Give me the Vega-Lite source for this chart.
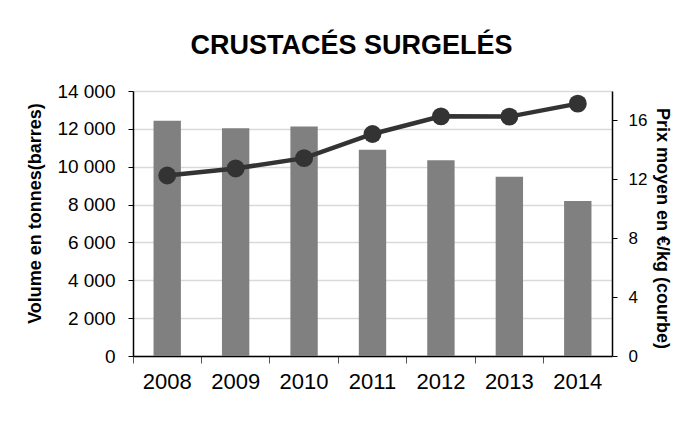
{
  "$schema": "https://vega.github.io/schema/vega-lite/v6.json",
  "width": 479,
  "height": 265,
  "autosize": {"type": "none"},
  "padding": {"left": 133, "top": 91, "right": 71, "bottom": 78},
  "background": "white",
  "config": {
    "font": "Liberation Sans",
    "view": {"stroke": null}
  },
  "title": {
    "text": "CRUSTACÉS SURGELÉS",
    "font": "Liberation Sans",
    "fontSize": 27,
    "fontWeight": "bold",
    "color": "#000000",
    "anchor": "middle",
    "frame": "group",
    "dx": -21,
    "offset": 22
  },
  "data": {
    "values": [
      {"annee": "2008", "volume": 12430, "prix": 12.26},
      {"annee": "2009", "volume": 12030, "prix": 12.74},
      {"annee": "2010", "volume": 12130, "prix": 13.44},
      {"annee": "2011", "volume": 10900, "prix": 15.08},
      {"annee": "2012", "volume": 10340, "prix": 16.28},
      {"annee": "2013", "volume": 9470, "prix": 16.26},
      {"annee": "2014", "volume": 8190, "prix": 17.14}
    ]
  },
  "encoding": {
    "x": {
      "field": "annee",
      "type": "nominal",
      "sort": null,
      "scale": {"paddingInner": 0, "paddingOuter": 0},
      "axis": {
        "title": null,
        "labelAngle": 0,
        "labelFontSize": 22,
        "labelColor": "#000000",
        "labelPadding": 8,
        "domainColor": "#000000",
        "domainWidth": 1.5,
        "tickColor": "#555555",
        "tickSize": 7,
        "bandPosition": 0,
        "grid": false
      }
    }
  },
  "layer": [
    {
      "mark": {"type": "bar", "color": "#808080", "width": {"band": 0.4}},
      "encoding": {
        "y": {
          "field": "volume",
          "type": "quantitative",
          "scale": {"domain": [0, 14000], "nice": false},
          "axis": {
            "orient": "left",
            "title": "Volume en tonnes(barres)",
            "titleFontSize": 18,
            "titleFontWeight": "bold",
            "titleColor": "#000000",
            "titlePadding": 12,
            "titleY": 122,
            "values": [0, 2000, 4000, 6000, 8000, 10000, 12000, 14000],
            "labelExpr": "replace(format(datum.value, ','), ',', ' ')",
            "labelFontSize": 19,
            "labelColor": "#000000",
            "labelPadding": 13,
            "tickSize": 5,
            "tickColor": "#000000",
            "domainColor": "#000000",
            "domainWidth": 1.5,
            "grid": true,
            "gridColor": "#d9d9d9",
            "gridWidth": 1.5
          }
        }
      }
    },
    {
      "mark": {"type": "line", "color": "#333333", "strokeWidth": 4.5},
      "encoding": {
        "y": {
          "field": "prix",
          "type": "quantitative",
          "scale": {"domain": [0, 18], "nice": false},
          "axis": {
            "orient": "right",
            "title": "Prix moyen en €/kg (courbe)",
            "titleFontSize": 18,
            "titleFontWeight": "bold",
            "titleColor": "#000000",
            "titleAngle": 90,
            "titlePadding": 6,
            "titleY": 137,
            "values": [0, 4, 8, 12, 16],
            "labelFontSize": 17,
            "labelColor": "#000000",
            "labelPadding": 11,
            "tickSize": 5,
            "tickColor": "#000000",
            "domainColor": "#000000",
            "domainWidth": 1.5,
            "grid": false
          }
        }
      }
    },
    {
      "mark": {"type": "point", "filled": true, "color": "#333333", "size": 320, "opacity": 1},
      "encoding": {
        "y": {"field": "prix", "type": "quantitative", "scale": {"domain": [0, 18], "nice": false}, "axis": null}
      }
    }
  ],
  "resolve": {"scale": {"y": "independent"}}
}
